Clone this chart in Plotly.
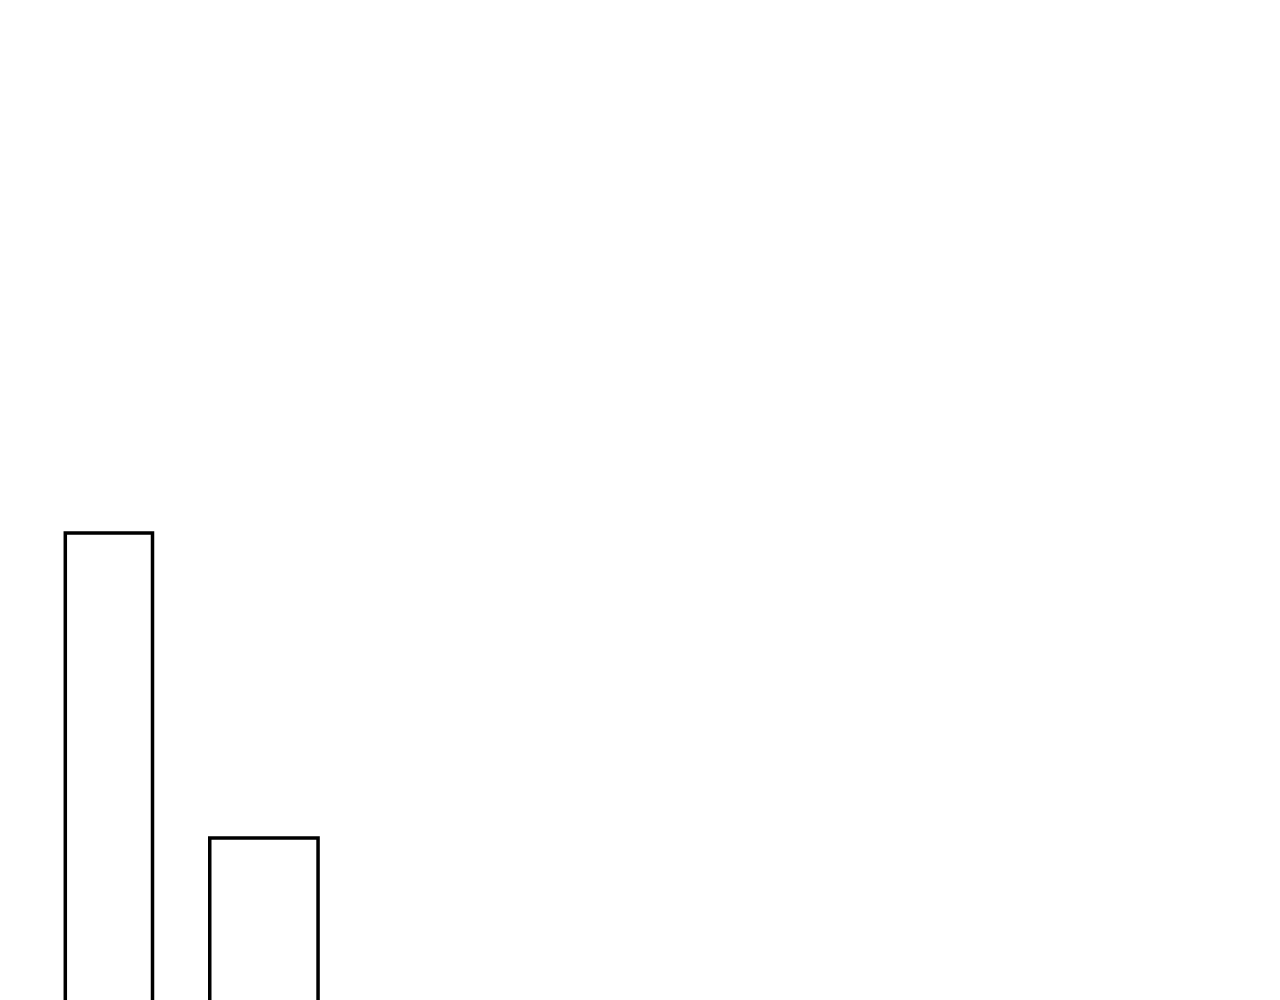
import plotly.graph_objects as go

# Data
categories = ["A", "B"]
values = [477, 172]

# Layout / style (kept separate from data)
x_centers = [108.9, 263.9]
bar_widths = [87.2, 108.3]

fig = go.Figure()
fig.add_trace(go.Bar(
    x=x_centers,
    y=values,
    width=bar_widths,
    customdata=categories,
    marker=dict(color="white", line=dict(color="black", width=3.5)),
    hovertemplate="%{customdata}: %{y}<extra></extra>",
))

# page body has an 8px margin; shift axis ranges to compensate
fig.update_layout(
    width=1280,
    height=1000,
    margin=dict(l=0, r=0, t=0, b=0),
    paper_bgcolor="white",
    plot_bgcolor="white",
    showlegend=False,
    xaxis=dict(range=[8, 1288], visible=False, fixedrange=True),
    yaxis=dict(range=[2, 1002], visible=False, fixedrange=True),
)

fig.write_html("out.html", config={"displayModeBar": False})
